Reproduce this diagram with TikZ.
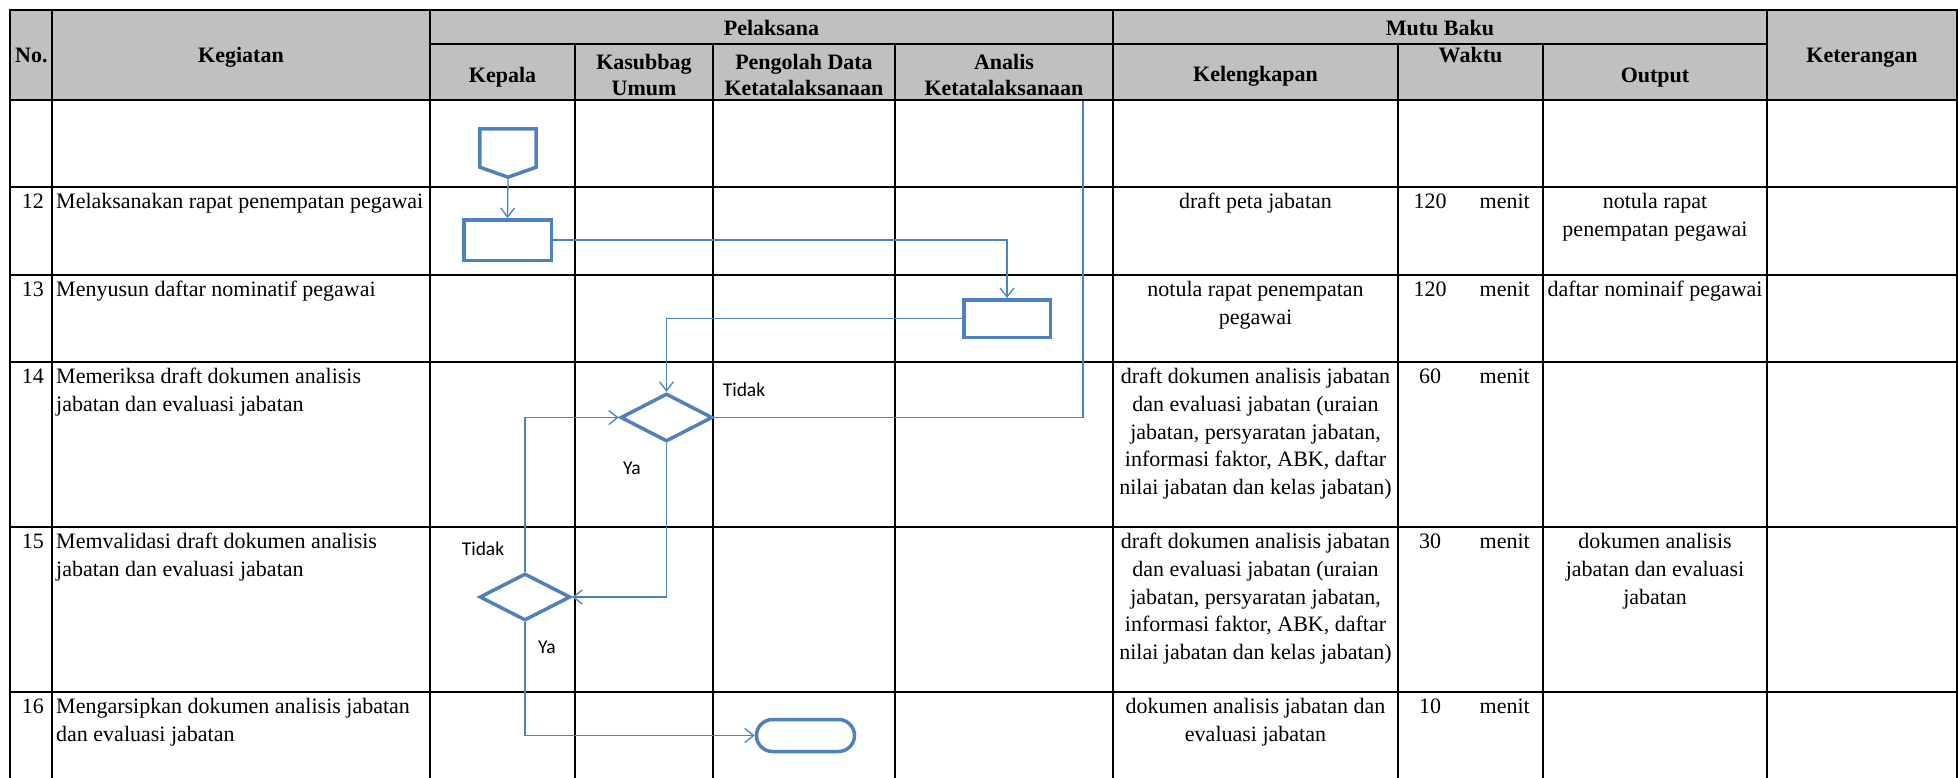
\documentclass[tikz,border=0pt]{standalone}
\usepackage{fontspec}
\setmainfont{Liberation Serif}
\newfontfamily\calfont{Carlito}
\usetikzlibrary{shapes.geometric,shapes.misc,arrows.meta,calc}
\definecolor{hdrgray}{RGB}{192,192,192}
\definecolor{flowblue}{RGB}{79,129,189}
\newcommand\bodyf{\fontsize{22}{27.7}\selectfont}
\newcommand\hdrf{\fontsize{22}{26}\selectfont\bfseries}
\newcommand\lblf{\calfont\fontsize{19.5}{23}\selectfont}
\begin{document}
\begin{tikzpicture}[x=1pt,y=-1pt,
  grid/.style={line width=2pt, black, line cap=rect},
  shp/.style={draw=flowblue, line width=3.5pt, fill=white, inner sep=0pt, line join=miter},
  shpline/.style={draw=flowblue, line width=3.5pt, fill=white, line join=miter},
  conn/.style={draw=flowblue, line width=1.3pt},
  arr/.style={conn, -{Straight Barb[length=9pt,width=14pt]}},
  hdr/.style={font=\hdrf, inner sep=0pt},
  hdrC/.style={hdr, anchor=north, align=center},
  cellL/.style={font=\bodyf, inner sep=0pt, anchor=north west, align=left},
  cellC/.style={font=\bodyf, inner sep=0pt, anchor=north, align=center},
  cellR/.style={font=\bodyf, inner sep=0pt, anchor=north east, align=right},
  lbl/.style={font=\lblf, inner sep=0pt}]
\useasboundingbox (0,0) rectangle (1958,778);
\fill[white] (0,0) rectangle (1958,778);
% ---------- table ----------
\fill[hdrgray] (10,10) rectangle (1957,100);
\draw[grid] (10,10) -- (1957,10);
\draw[grid] (430,44) -- (1767,44);
\foreach \y in {100,187,275,362,527,692} \draw[grid] (10,\y) -- (1957,\y);
\foreach \x in {10,52,430,1113,1767,1957} \draw[grid] (\x,10) -- (\x,779);
\foreach \x in {575,713,895,1398,1543} \draw[grid] (\x,44) -- (\x,779);
% ---------- header ----------
\node[hdr, anchor=base west] (hno) at (15,63) {No.};
\node[hdr, anchor=base] (hkeg) at (241,63) {Kegiatan};
\node[hdr, anchor=base] (hpel) at (771.5,36) {Pelaksana};
\node[hdr, anchor=base] (hmutu) at (1440,36) {Mutu Baku};
\node[hdr, anchor=base] (hket) at (1862,63) {Keterangan};
\node[hdr, anchor=base] (hkep) at (502.5,83) {Kepala};
\node[hdrC] (hkas) at (644,50.8) {\strut Kasubbag\\\strut Umum};
\node[hdrC] (hpeng) at (804,50.8) {\strut Pengolah Data\\\strut Ketatalaksanaan};
\node[hdrC] (hanl) at (1004,50.8) {\strut Analis\\\strut Ketatalaksanaan};
\node[hdr, anchor=base] (hkel) at (1255.5,82) {Kelengkapan};
\node[hdr, anchor=base] (hwak) at (1470.5,63) {Waktu};
\node[hdr, anchor=base] (hout) at (1655,83) {Output};
% ---------- row 12 ----------
\node[cellR] (n12) at (44,189.1) {\strut 12};
\node[cellL] (k12) at (56,189.1) {\strut Melaksanakan rapat penempatan pegawai};
\node[cellC] (l12) at (1255.5,189.1) {\strut draft peta jabatan};
\node[cellC] (w12) at (1430,189.1) {\strut 120};
\node[cellR] (m12) at (1530,189.1) {\strut menit};
\node[cellC] (o12) at (1655,189.1) {\strut notula rapat\\\strut penempatan pegawai};
% ---------- row 13 ----------
\node[cellR] (n13) at (44,277.1) {\strut 13};
\node[cellL] (k13) at (56,277.1) {\strut Menyusun daftar nominatif pegawai};
\node[cellC] (l13) at (1255.5,277.1) {\strut notula rapat penempatan\\\strut pegawai};
\node[cellC] (w13) at (1430,277.1) {\strut 120};
\node[cellR] (m13) at (1530,277.1) {\strut menit};
\node[cellC] (o13) at (1655,277.1) {\strut daftar nominaif pegawai};
% ---------- row 14 ----------
\node[cellR] (n14) at (44,364.1) {\strut 14};
\node[cellL] (k14) at (56,364.1) {\strut Memeriksa draft dokumen analisis\\\strut jabatan dan evaluasi jabatan};
\node[cellC] (l14) at (1255.5,364.1) {\strut draft dokumen analisis jabatan\\\strut dan evaluasi jabatan (uraian\\\strut jabatan, persyaratan jabatan,\\\strut informasi faktor, ABK, daftar\\\strut nilai jabatan dan kelas jabatan)};
\node[cellC] (w14) at (1430,364.1) {\strut 60};
\node[cellR] (m14) at (1530,364.1) {\strut menit};
% ---------- row 15 ----------
\node[cellR] (n15) at (44,529.1) {\strut 15};
\node[cellL] (k15) at (56,529.1) {\strut Memvalidasi draft dokumen analisis\\\strut jabatan dan evaluasi jabatan};
\node[cellC] (l15) at (1255.5,529.1) {\strut draft dokumen analisis jabatan\\\strut dan evaluasi jabatan (uraian\\\strut jabatan, persyaratan jabatan,\\\strut informasi faktor, ABK, daftar\\\strut nilai jabatan dan kelas jabatan)};
\node[cellC] (w15) at (1430,529.1) {\strut 30};
\node[cellR] (m15) at (1530,529.1) {\strut menit};
\node[cellC] (o15) at (1655,529.1) {\strut dokumen analisis\\\strut jabatan dan evaluasi\\\strut jabatan};
% ---------- row 16 ----------
\node[cellR] (n16) at (44,694.1) {\strut 16};
\node[cellL] (k16) at (56,694.1) {\strut Mengarsipkan dokumen analisis jabatan\\\strut dan evaluasi jabatan};
\node[cellC] (l16) at (1255.5,694.1) {\strut dokumen analisis jabatan dan\\\strut evaluasi jabatan};
\node[cellC] (w16) at (1430,694.1) {\strut 10};
\node[cellR] (m16) at (1530,694.1) {\strut menit};
% ---------- flow shapes ----------
\node[inner sep=0pt, minimum width=56pt, minimum height=48pt] (op) at (508,153) {};
\node[shp, rectangle, minimum width=87.5pt, minimum height=40.5pt] (r12) at (507.5,240) {};
\node[shp, rectangle, minimum width=86.5pt, minimum height=37.5pt] (r13) at (1007,318.5) {};
\node[shp, diamond, minimum width=92pt, minimum height=48pt] (d14) at (666.5,417.5) {};
\node[shp, diamond, minimum width=91pt, minimum height=47pt] (d15) at (525,597) {};
\node[shp, rounded rectangle, minimum width=98pt, minimum height=32pt] (term) at (805.5,735.5) {};
\coordinate (loopTop) at (1083,101);
% ---------- connectors ----------
\draw[arr] (op.south) -- (r12.north);
\draw[arr] (r12.east) -| (r13.north);
\draw[arr] (r13.west) -| (d14.north);
\draw[conn] (d14.east) -| (loopTop);
\draw[arr] (d14.south) |- (d15.east);
\draw[arr] (d15.north) |- (d14.west);
\draw[arr] (d15.south) |- (term.west);
% off-page connector outline
\draw[shpline] (op.north west) -- (op.north east) -- ($(op.south east)+(0,-10)$) -- (op.south) -- ($(op.south west)+(0,-10)$) -- cycle;
% ---------- labels ----------
\node[lbl] (t14) at (744,390) {Tidak};
\node[lbl] (y14) at (632,468) {Ya};
\node[lbl] (t15) at (483,549) {Tidak};
\node[lbl] (y15) at (547,647) {Ya};
\end{tikzpicture}
\end{document}
